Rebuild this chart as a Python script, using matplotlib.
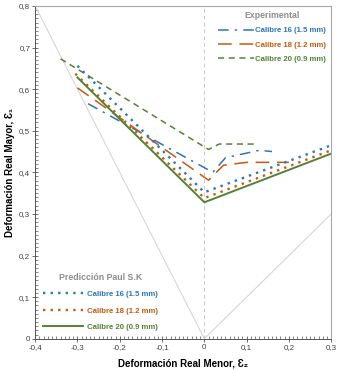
import numpy as np
import matplotlib
matplotlib.use("Agg")
import matplotlib.pyplot as plt
from matplotlib.ticker import MultipleLocator, FuncFormatter

plt.rcParams['font.family'] = ['Liberation Sans', 'DejaVu Sans']

# Experimental curves (e2, e1)
exp16_x = [-0.275, 0.02, 0.05, 0.13, 0.16]
exp16_y = [0.565, 0.400, 0.435, 0.453, 0.450]
exp18_x = [-0.30, 0.01, 0.045, 0.10, 0.20]
exp18_y = [0.603, 0.381, 0.417, 0.424, 0.424]
exp20_x = [-0.34, 0.01, 0.035, 0.12]
exp20_y = [0.673, 0.455, 0.468, 0.468]

# Prediccion Paul S.K
pred16_x = [-0.30, 0.0, 0.30]
pred16_y = [0.656, 0.352, 0.465]
pred18_x = [-0.305, 0.0, 0.30]
pred18_y = [0.637, 0.338, 0.453]
pred20_x = [-0.30, 0.0, 0.30]
pred20_y = [0.628, 0.328, 0.445]

# reference lines e1 = -2 e2 and e1 = e2
ref_left_x = [-0.4, 0.0]
ref_left_y = [0.8, 0.0]
ref_right_x = [0.0, 0.3]
ref_right_y = [0.0, 0.3]

labels = ['Calibre 16 (1.5 mm)', 'Calibre 18 (1.2 mm)', 'Calibre 20 (0.9 mm)']

blue = '#2E75B6'
orange = '#C55A11'
green = '#548235'

fig = plt.figure(figsize=(3.38, 3.71), dpi=100)
ax = fig.add_axes([0.104, 0.087, 0.876, 0.897])

ax.plot(ref_left_x, ref_left_y, color='#d6d6d6', lw=0.8)
ax.plot(ref_right_x, ref_right_y, color='#d6d6d6', lw=0.8)
ax.axvline(0, color='#c8c8c8', lw=0.7, ls=(0, (4, 3)))

# experimental
e1, = ax.plot(exp16_x, exp16_y, color=blue, lw=1.1, ls=(0, (7, 4, 1.5, 4)), label=labels[0])
e2, = ax.plot(exp18_x, exp18_y, color=orange, lw=1.1, ls=(0, (9, 5)), label=labels[1])
e3, = ax.plot(exp20_x, exp20_y, color=green, lw=1.1, ls=(0, (4, 3)), label=labels[2])

# predicted
p1, = ax.plot(pred16_x, pred16_y, color=blue, lw=1.7, ls=(0, (1, 2.2)), label=labels[0])
p2, = ax.plot(pred18_x, pred18_y, color=orange, lw=1.7, ls=(0, (1, 2.2)), label=labels[1])
p3, = ax.plot(pred20_x, pred20_y, color=green, lw=1.4, label=labels[2])

ax.set_xlim(-0.4, 0.3)
ax.set_ylim(0, 0.8)
ax.xaxis.set_major_locator(MultipleLocator(0.1))
ax.xaxis.set_minor_locator(MultipleLocator(0.01))
ax.yaxis.set_major_locator(MultipleLocator(0.1))
ax.yaxis.set_minor_locator(MultipleLocator(0.01))


def fmt(v, pos):
    if abs(v) < 1e-9:
        return '0'
    return f'{v:.1f}'.replace('.', ',')


ax.xaxis.set_major_formatter(FuncFormatter(fmt))
ax.yaxis.set_major_formatter(FuncFormatter(fmt))
ax.tick_params(which='major', direction='inout', length=4, width=0.6,
               color='#555555', labelsize=5.8, labelcolor='#404040', pad=1.5)
ax.tick_params(which='minor', direction='in', length=2, width=0.5, color='#555555')
ax.tick_params(top=False, right=False, which='both')

for side in ['left', 'bottom']:
    ax.spines[side].set_color('#555555')
    ax.spines[side].set_linewidth(0.7)
for side in ['top', 'right']:
    ax.spines[side].set_color('#a6a6a6')
    ax.spines[side].set_linewidth(0.8)

ax.set_xlabel('Deformación Real Menor, Ɛ₂', fontsize=7, fontweight='bold', labelpad=6)
ax.set_ylabel('Deformación Real Mayor, Ɛ₁', fontsize=7, fontweight='bold', labelpad=3)

leg1 = ax.legend(handles=[e1, e2, e3], title='Experimental', loc='upper right',
                 bbox_to_anchor=(0.998, 0.998), frameon=False, borderpad=0.1,
                 borderaxespad=0.45,
                 title_fontsize=6.3, handlelength=4.6, handletextpad=0.2,
                 labelspacing=0.9, labelcolor='linecolor',
                 prop={'weight': 'bold', 'size': 5.6})
leg1.get_title().set_color('#8c8c8c')
leg1.get_title().set_fontweight('bold')
ax.add_artist(leg1)

leg2 = ax.legend(handles=[p1, p2, p3], title='Predicción Paul S.K', loc='lower left',
                 bbox_to_anchor=(0.0, 0.0), frameon=False, borderpad=0.3,
                 borderaxespad=0.7,
                 title_fontsize=6.3, handlelength=5.2, handletextpad=0.5,
                 labelspacing=1.15, labelcolor='linecolor',
                 prop={'weight': 'bold', 'size': 5.6})
leg2.get_title().set_color('#8c8c8c')
leg2.get_title().set_fontweight('bold')

fig.savefig('out.png', dpi=100)
